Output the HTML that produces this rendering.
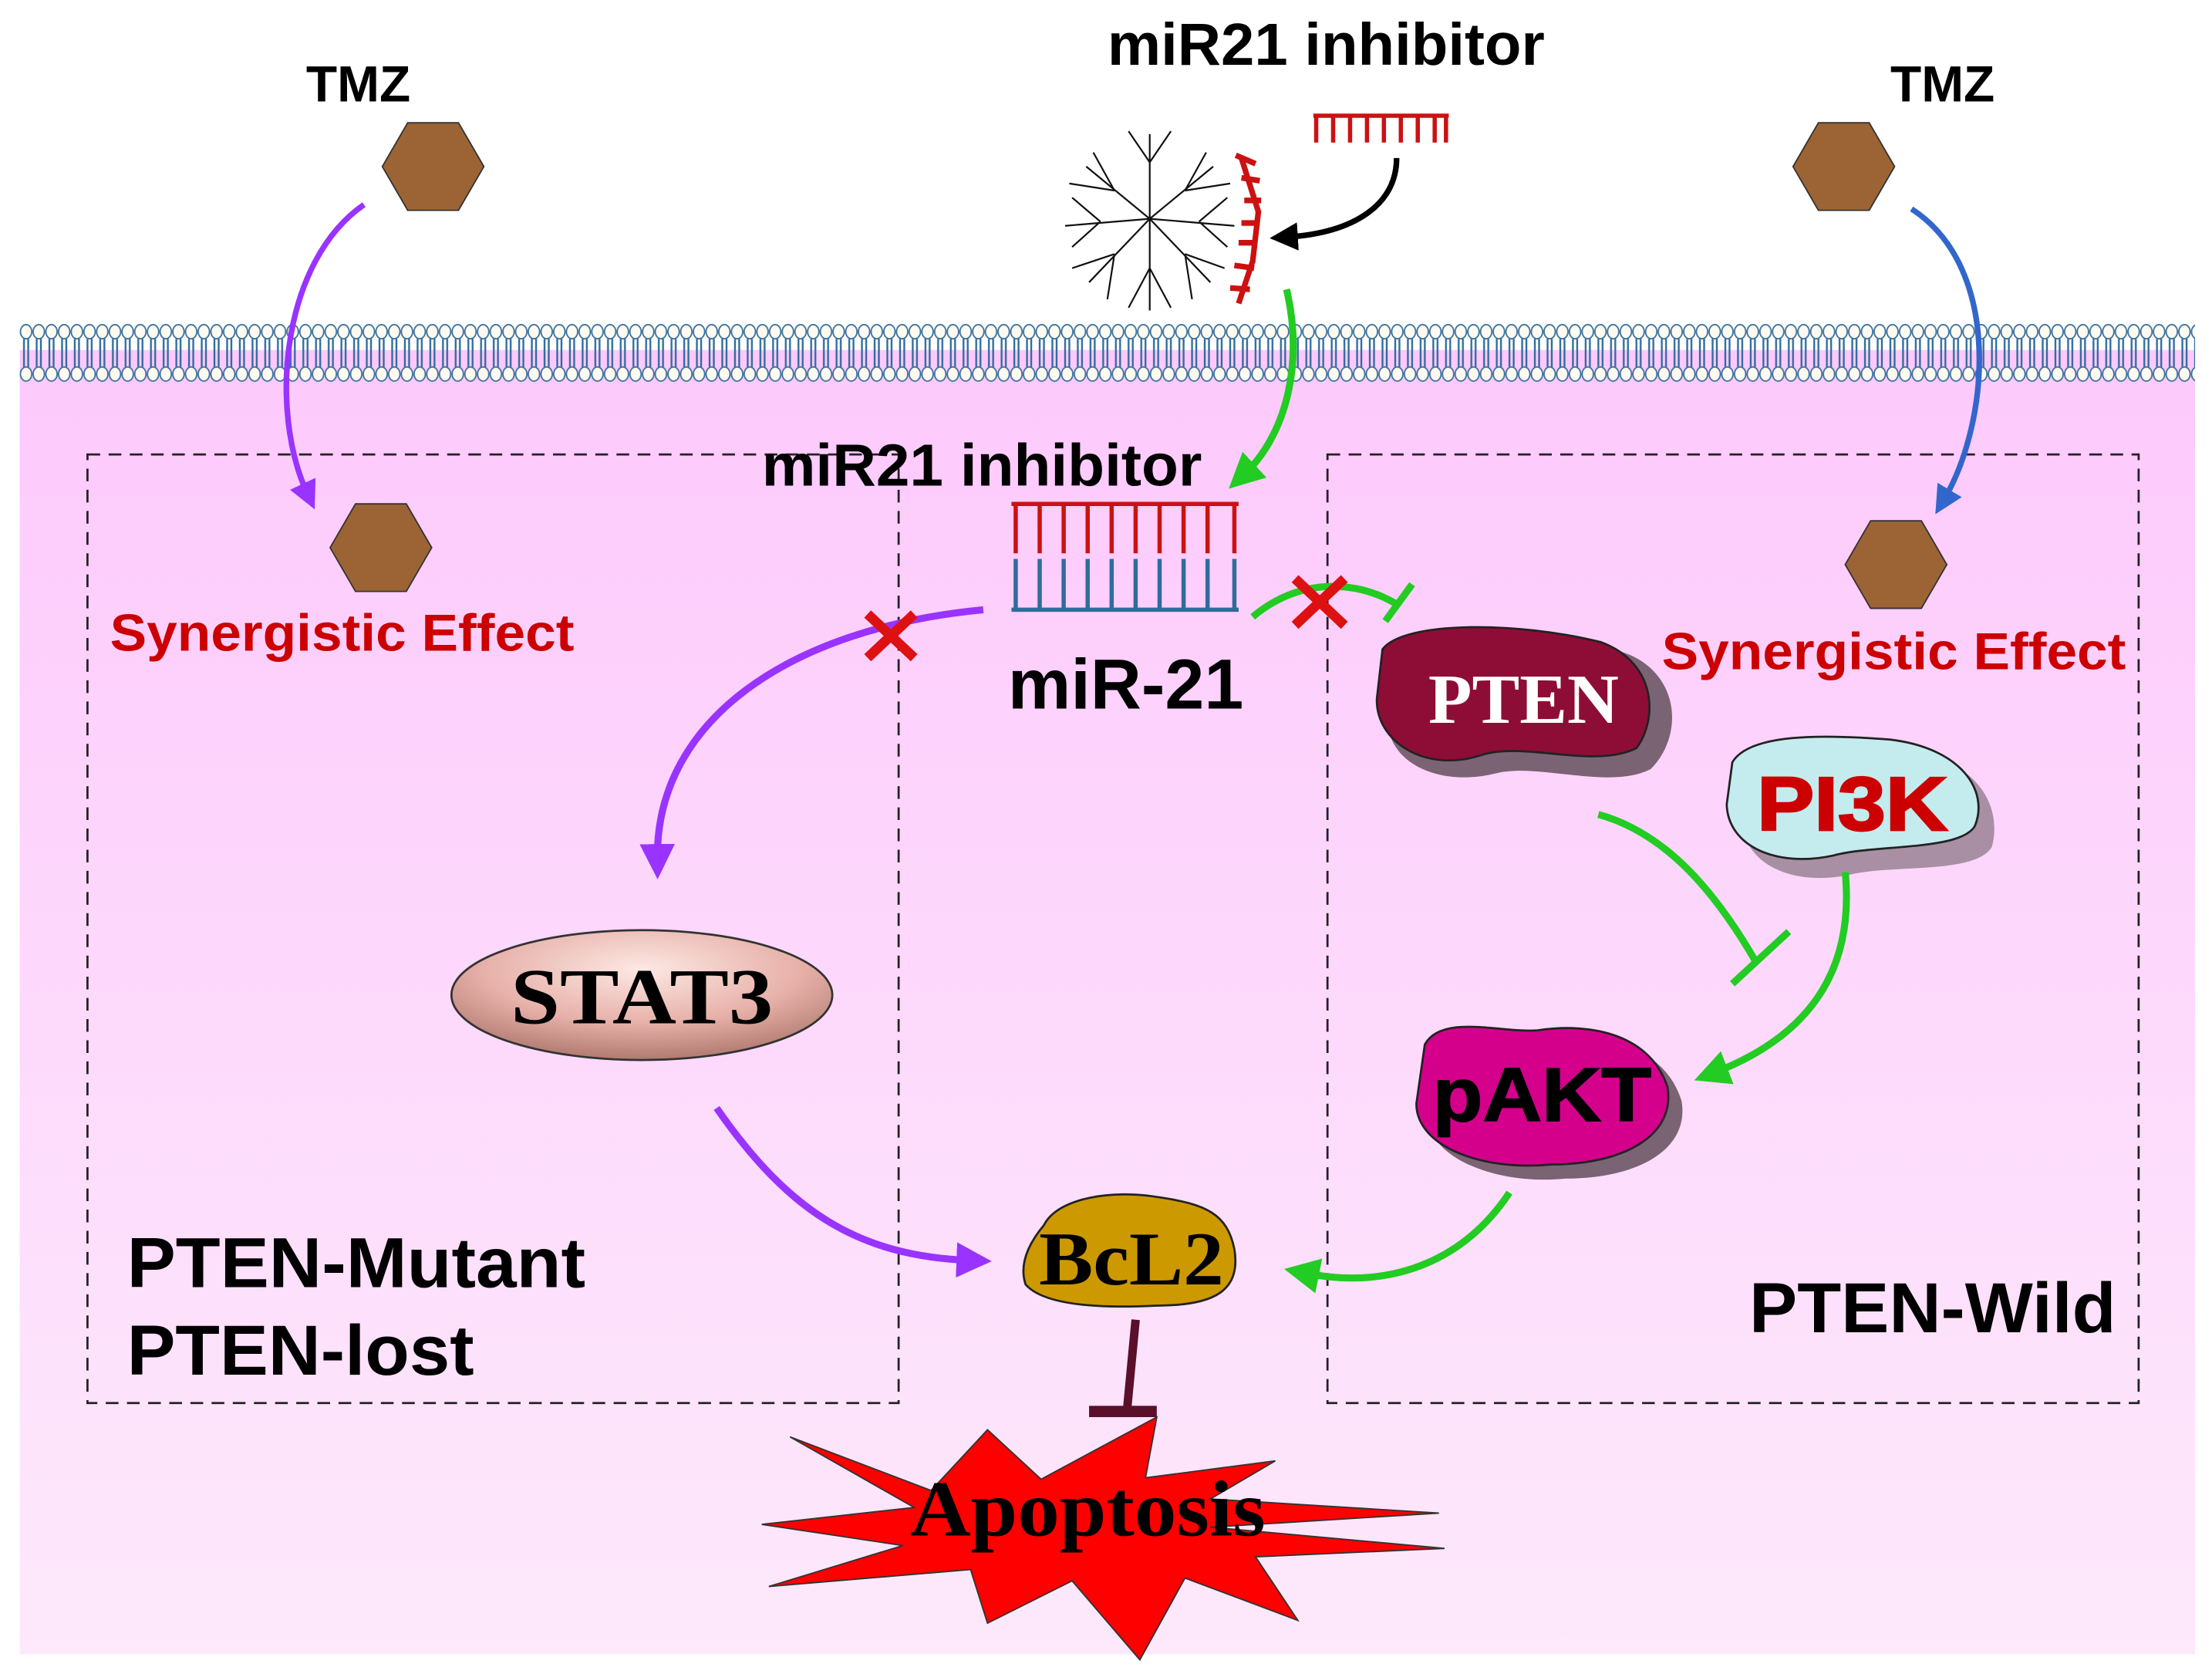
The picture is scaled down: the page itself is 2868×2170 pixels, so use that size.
<!DOCTYPE html>
<html><head><meta charset="utf-8"><style>
html,body{margin:0;padding:0;background:#fff}
svg{display:block}
.b{font-family:"Liberation Sans",Arial,sans-serif;font-weight:bold}
.s{font-family:"Liberation Serif","Times New Roman",serif;font-weight:bold}
</style></head><body>
<svg width="2868" height="2170" viewBox="0 0 1568 1186" preserveAspectRatio="none" xmlns="http://www.w3.org/2000/svg">
<defs>
<linearGradient id="pk" x1="0" y1="0" x2="0" y2="1">
<stop offset="0" stop-color="#fdc9fc"/><stop offset="1" stop-color="#fde9fb"/></linearGradient>
<radialGradient id="st" cx="0.5" cy="0.3" r="0.7">
<stop offset="0" stop-color="#fde8e4"/><stop offset="0.6" stop-color="#e6b0a8"/><stop offset="1" stop-color="#b07a70"/></radialGradient>
<pattern id="mem" x="14" y="226" width="9" height="48" patternUnits="userSpaceOnUse">
<line x1="3" y1="14" x2="3" y2="34" stroke="#2f6c9c" stroke-width="1.3"/>
<line x1="6" y1="14" x2="6" y2="34" stroke="#2f6c9c" stroke-width="1.3"/>
<ellipse cx="4.5" cy="9" rx="4" ry="5" fill="#fffaf0" stroke="#3a72a0" stroke-width="1"/>
<ellipse cx="4.5" cy="39" rx="4" ry="5" fill="#fffaf0" stroke="#3a72a0" stroke-width="1"/>
</pattern>
<marker id="ap" markerWidth="5" markerHeight="5" refX="2" refY="2.5" orient="auto" markerUnits="strokeWidth"><path d="M0,0 L5,2.5 L0,5 z" fill="#9933ff"/></marker>
<marker id="ag" markerWidth="5" markerHeight="5" refX="2" refY="2.5" orient="auto" markerUnits="strokeWidth"><path d="M0,0 L5,2.5 L0,5 z" fill="#22cc22"/></marker>
<marker id="ab" markerWidth="5" markerHeight="5" refX="2" refY="2.5" orient="auto" markerUnits="strokeWidth"><path d="M0,0 L5,2.5 L0,5 z" fill="#3366cc"/></marker>
<marker id="ak" markerWidth="5" markerHeight="5" refX="2" refY="2.5" orient="auto" markerUnits="strokeWidth"><path d="M0,0 L5,2.5 L0,5 z" fill="#000"/></marker>
</defs>
<rect x="0" y="0" width="1568" height="1186" fill="#fff"/>
<rect x="14" y="248" width="1542" height="924" fill="url(#pk)"/>
<rect x="14" y="226" width="1542" height="48" fill="url(#mem)"/>

<rect x="62" y="322" width="575" height="672" fill="none" stroke="#222" stroke-width="1.5" stroke-dasharray="9,6"/>
<rect x="941" y="322" width="575" height="672" fill="none" stroke="#222" stroke-width="1.5" stroke-dasharray="9,6"/>

<text x="254" y="72" class="b" font-size="36" text-anchor="middle">TMZ</text>
<polygon points="271,118 289,87 325,87 343,118 325,149 289,149" fill="#9c6434" stroke="#333" stroke-width="1"/>
<text x="1377" y="72" class="b" font-size="36" text-anchor="middle">TMZ</text>
<polygon points="1271,118 1289,87 1325,87 1343,118 1325,149 1289,149" fill="#9c6434" stroke="#333" stroke-width="1"/>
<path d="M258,145 C200,185 190,290 218,350" fill="none" stroke="#9933ff" stroke-width="4" marker-end="url(#ap)"/>
<path d="M1355,148 C1420,190 1410,300 1378,354" fill="none" stroke="#3366cc" stroke-width="4" marker-end="url(#ab)"/>
<polygon points="234,388 252,357 288,357 306,388 288,419 252,419" fill="#9c6434" stroke="#333" stroke-width="1"/>
<polygon points="1308,400 1326,369 1362,369 1380,400 1362,431 1326,431" fill="#9c6434" stroke="#333" stroke-width="1"/>
<text x="78" y="461" class="b" font-size="37" fill="#cc0000" textLength="329" lengthAdjust="spacingAndGlyphs">Synergistic Effect</text>
<text x="1178" y="474" class="b" font-size="37" fill="#cc0000" textLength="329" lengthAdjust="spacingAndGlyphs">Synergistic Effect</text>

<text x="940" y="46" class="b" font-size="42" text-anchor="middle" textLength="310" lengthAdjust="spacingAndGlyphs">miR21 inhibitor</text>
<g stroke="#cc1111" stroke-width="3">
<line x1="931" y1="82" x2="1027" y2="82"/>
<line x1="933" y1="82" x2="933" y2="101"/><line x1="945" y1="82" x2="945" y2="101"/><line x1="957" y1="82" x2="957" y2="101"/><line x1="969" y1="82" x2="969" y2="101"/><line x1="981" y1="82" x2="981" y2="101"/><line x1="993" y1="82" x2="993" y2="101"/><line x1="1005" y1="82" x2="1005" y2="101"/><line x1="1017" y1="82" x2="1017" y2="101"/><line x1="1025" y1="82" x2="1025" y2="101"/>
</g>
<g stroke="#111" stroke-width="1.2" fill="none">
<path d="M815,155 L815,95 M815,115 L800,93 M815,115 L830,93"/>
<path d="M815,155 L860,118 M840,135 L855,108 M840,135 L872,130"/>
<path d="M815,155 L875,160 M850,157 L870,140 M850,157 L870,175"/>
<path d="M815,155 L858,200 M840,180 L868,190 M840,180 L845,212"/>
<path d="M815,155 L815,220 M815,190 L800,218 M815,190 L830,218"/>
<path d="M815,155 L772,200 M790,180 L785,212 M790,180 L760,190"/>
<path d="M815,155 L755,160 M780,157 L760,140 M780,157 L760,175"/>
<path d="M815,155 L770,118 M790,135 L775,108 M790,135 L758,130"/>
</g>
<g stroke="#cc1111" stroke-width="4" fill="none">
<path d="M880,112 L892,150 L888,185 L878,215"/>
<path d="M876,110 L890,116 M880,126 L893,128 M882,142 L894,142 M880,158 L893,158 M878,172 L891,172 M875,188 L889,190 M872,204 L886,205"/>
</g>
<path d="M990,112 C990,145 960,165 912,168" fill="none" stroke="#000" stroke-width="4" marker-end="url(#ak)"/>
<path d="M912,205 C925,260 910,310 882,336" fill="none" stroke="#22cc22" stroke-width="5" marker-end="url(#ag)"/>

<text x="696" y="344" class="b" font-size="42" text-anchor="middle" textLength="312" lengthAdjust="spacingAndGlyphs">miR21 inhibitor</text>
<g stroke="#cc1111" stroke-width="3">
<line x1="717" y1="357" x2="878" y2="357"/>
<line x1="720" y1="357" x2="720" y2="392"/><line x1="737" y1="357" x2="737" y2="392"/><line x1="754" y1="357" x2="754" y2="392"/><line x1="771" y1="357" x2="771" y2="392"/><line x1="788" y1="357" x2="788" y2="392"/><line x1="805" y1="357" x2="805" y2="392"/><line x1="822" y1="357" x2="822" y2="392"/><line x1="839" y1="357" x2="839" y2="392"/><line x1="856" y1="357" x2="856" y2="392"/><line x1="875" y1="357" x2="875" y2="392"/>
</g>
<g stroke="#2f6c9c" stroke-width="3">
<line x1="717" y1="432" x2="878" y2="432"/>
<line x1="720" y1="396" x2="720" y2="432"/><line x1="737" y1="396" x2="737" y2="432"/><line x1="754" y1="396" x2="754" y2="432"/><line x1="771" y1="396" x2="771" y2="432"/><line x1="788" y1="396" x2="788" y2="432"/><line x1="805" y1="396" x2="805" y2="432"/><line x1="822" y1="396" x2="822" y2="432"/><line x1="839" y1="396" x2="839" y2="432"/><line x1="856" y1="396" x2="856" y2="432"/><line x1="875" y1="396" x2="875" y2="432"/>
</g>
<text x="798" y="502" class="b" font-size="50" text-anchor="middle" textLength="167" lengthAdjust="spacingAndGlyphs">miR-21</text>

<path d="M697,432 C560,445 465,510 466,608" fill="none" stroke="#9933ff" stroke-width="5" marker-end="url(#ap)"/>
<path d="M615,435 L648,466 M648,435 L615,466" stroke="#dd1111" stroke-width="7"/>
<path d="M888,437 C920,410 960,410 990,428" fill="none" stroke="#22cc22" stroke-width="5"/>
<line x1="982" y1="440" x2="1001" y2="414" stroke="#22cc22" stroke-width="5"/>
<path d="M918,410 L953,443 M953,410 L918,443" stroke="#dd1111" stroke-width="7"/>

<path d="M992,468 C1010,440 1090,445 1150,462 C1190,475 1195,520 1170,545 C1140,560 1090,540 1060,548 C1020,558 980,540 984,505 Z" fill="#7a6474"/>
<path d="M980,460 C995,440 1075,440 1135,455 C1175,470 1175,510 1160,530 C1130,545 1080,525 1050,535 C1010,548 975,525 976,495 Z" fill="#8e0d36" stroke="#222" stroke-width="1.5"/>
<text x="1080" y="512" class="s" font-size="50" fill="#fff" text-anchor="middle" textLength="135" lengthAdjust="spacingAndGlyphs">PTEN</text>

<path d="M1238,545 C1250,525 1300,528 1350,532 C1400,537 1420,570 1412,600 C1400,620 1340,612 1310,620 C1270,628 1235,612 1235,580 Z" fill="#a88fa3"/>
<path d="M1228,540 C1240,520 1290,520 1340,524 C1390,530 1410,560 1400,585 C1390,603 1330,598 1300,606 C1260,615 1225,600 1224,570 Z" fill="#c4ecee" stroke="#222" stroke-width="1.5"/>
<text x="1313" y="588" class="b" font-size="54" fill="#cc0000" text-anchor="middle" textLength="135" lengthAdjust="spacingAndGlyphs" stroke="#cc0000" stroke-width="1.5">PI3K</text>

<path d="M1133,577 C1180,590 1215,630 1245,682" fill="none" stroke="#22cc22" stroke-width="5"/>
<line x1="1228" y1="697" x2="1268" y2="660" stroke="#22cc22" stroke-width="5"/>
<path d="M1308,618 C1315,690 1280,735 1215,760" fill="none" stroke="#22cc22" stroke-width="5" marker-end="url(#ag)"/>

<path d="M1018,748 C1030,725 1075,740 1100,738 C1140,732 1180,742 1192,780 C1198,815 1160,835 1110,835 C1060,840 1012,820 1012,790 Z" fill="#7a6474"/>
<path d="M1010,740 C1022,718 1065,732 1090,730 C1130,724 1170,734 1182,770 C1188,805 1150,825 1100,825 C1050,830 1004,812 1004,782 Z" fill="#d4008c" stroke="#222" stroke-width="1.5"/>
<text x="1093" y="794" class="b" font-size="54" fill="#000" text-anchor="middle" textLength="155" lengthAdjust="spacingAndGlyphs" stroke="#000" stroke-width="1">pAKT</text>

<path d="M1070,845 C1040,890 990,915 925,902" fill="none" stroke="#22cc22" stroke-width="5" marker-end="url(#ag)"/>

<ellipse cx="455" cy="705" rx="135" ry="46" fill="url(#st)" stroke="#333" stroke-width="1.5"/>
<text x="455" y="725" class="s" font-size="56" text-anchor="middle" textLength="186" lengthAdjust="spacingAndGlyphs">STAT3</text>
<path d="M508,785 C560,860 610,890 688,893" fill="none" stroke="#9933ff" stroke-width="5" marker-end="url(#ap)"/>

<path d="M740,868 C750,848 790,843 820,848 C855,853 870,860 875,885 C880,915 860,925 820,925 C780,927 740,925 727,910 C722,895 730,880 740,868 Z" fill="#cc9900" stroke="#222" stroke-width="1.5"/>
<text x="802" y="910" class="s" font-size="54" text-anchor="middle" textLength="131" lengthAdjust="spacingAndGlyphs">BcL2</text>
<line x1="805" y1="935" x2="799" y2="998" stroke="#5a0f2a" stroke-width="6"/>
<line x1="772" y1="1000" x2="820" y2="1000" stroke="#5a0f2a" stroke-width="8"/>

<polygon points="560,1018 660,1056 700,1013 738,1048 820,1004 812,1047 904,1035 858,1062 1020,1072 858,1082 1024,1097 890,1103 920,1148 840,1118 808,1176 760,1120 700,1150 688,1112 545,1124 640,1095 540,1080 648,1068" fill="#ff0000" stroke="#333" stroke-width="1"/>
<text x="771" y="1088" class="s" font-size="56" text-anchor="middle" textLength="252" lengthAdjust="spacingAndGlyphs">Apoptosis</text>

<text x="90" y="912" class="b" font-size="50" textLength="325" lengthAdjust="spacingAndGlyphs">PTEN-Mutant</text>
<text x="90" y="974" class="b" font-size="50" textLength="246" lengthAdjust="spacingAndGlyphs">PTEN-lost</text>
<text x="1240" y="944" class="b" font-size="50" textLength="260" lengthAdjust="spacingAndGlyphs">PTEN-Wild</text>
</svg>
</body></html>
